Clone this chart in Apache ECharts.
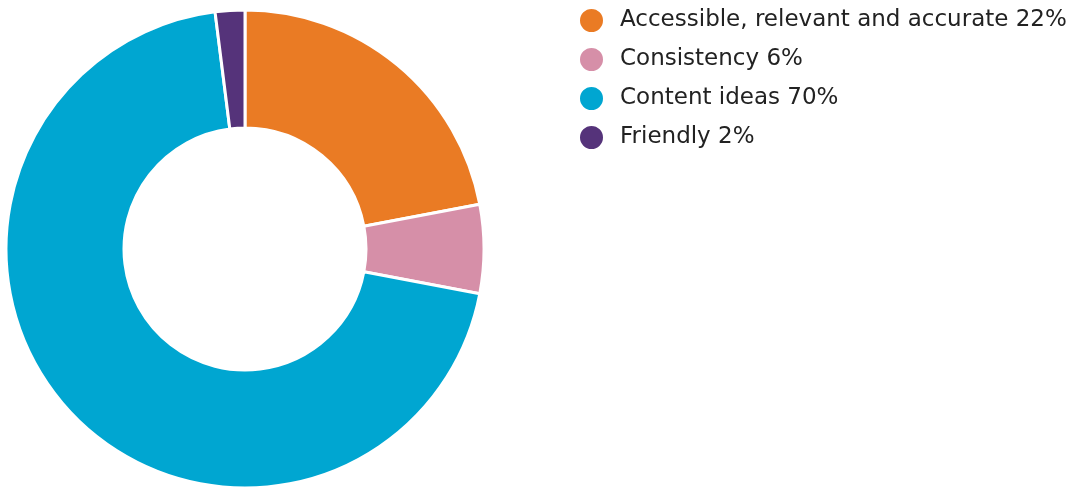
<!DOCTYPE html>
<html>
<head>
<meta charset="utf-8">
<script src="https://cdn.jsdelivr.net/npm/echarts@6/dist/echarts.min.js"></script>
<style>
  html, body { margin: 0; padding: 0; background: #fff; }
  #chart { width: 1071px; height: 488px; }
</style>
</head>
<body>
<div id="chart"></div>
<script>
// Feedback themes and their share of responses (%)
const categories = ['Accessible, relevant and accurate', 'Consistency', 'Content ideas', 'Friendly'];
const values = [22, 6, 70, 2];
const colors = ['#EA7B24', '#D68FA8', '#00A6D1', '#55337A'];

const data = categories.map((name, i) => ({
  name: name,
  value: values[i],
  itemStyle: { color: colors[i] }
}));

const chart = echarts.init(document.getElementById('chart'), null, { renderer: 'canvas' });
chart.setOption({
  animation: false,
  legend: {
    orient: 'vertical',
    left: 578,
    top: 7,
    padding: 0,
    icon: 'circle',
    itemWidth: 25,
    itemHeight: 25,
    itemGap: 12,
    textStyle: {
      fontFamily: 'DejaVu Sans',
      fontSize: 23,
      lineHeight: 25,
      color: '#222222',
      padding: [0, 0, 0, 11]
    },
    formatter: function (name) {
      const i = categories.indexOf(name);
      return name + ' ' + values[i] + '%';
    },
    data: categories
  },
  series: [{
    type: 'pie',
    center: [245, 249],
    radius: [121, 239],
    startAngle: 90,
    clockwise: true,
    label: { show: false },
    labelLine: { show: false },
    itemStyle: { borderColor: '#ffffff', borderWidth: 3 },
    emphasis: { disabled: true },
    data: data
  }]
});
</script>
</body>
</html>
